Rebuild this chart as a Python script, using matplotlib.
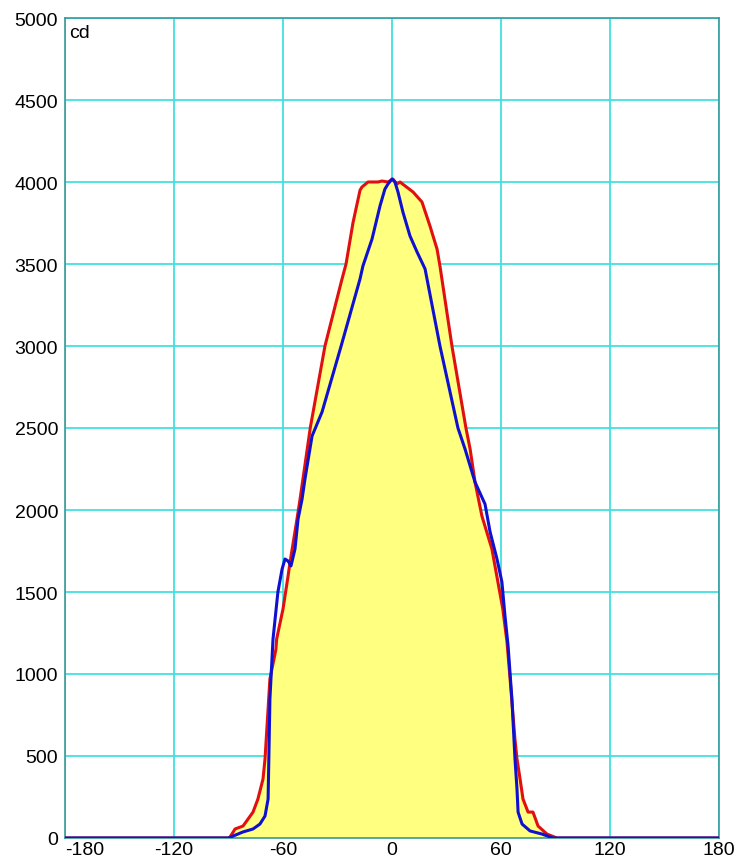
import matplotlib
matplotlib.use("Agg")
import matplotlib.pyplot as plt
import numpy as np

plt.rcParams['font.family'] = ['Liberation Sans', 'DejaVu Sans']

x_ticks = [-180, -120, -60, 0, 60, 120, 180]
y_ticks = [0, 500, 1000, 1500, 2000, 2500, 3000, 3500, 4000, 4500, 5000]

red_x = [-180, -90, -89.2, -86.4, -82, -76.5, -73.8, -71, -69.9, -67.2, -63.9, -63.5,
         -60, -57.2, -56.1, -52.3, -50.6, -45, -36.9, -27.5, -25.3, -21.5, -17.6, -16.5, -13.2,
         -7.7, -5.5, -2.2, 0.5, 2.7, 4.4, 11.6, 16.5, 20.9, 24.8, 26.4, 33, 40.7, 43, 45.7,
         49.5, 55, 58.3, 61, 63.3, 65, 67.7, 68.8, 70.5, 72.1, 74.9, 77.6, 80.4, 85.3, 90.8, 180]
red_y = [0, 0, 5, 55, 73, 158, 238, 360, 482, 970, 1150, 1213,
         1396, 1598, 1683, 1945, 2067, 2500, 3000, 3409, 3500, 3750, 3950, 3970, 4000,
         4000, 4006, 4000, 4018, 3988, 4000, 3939, 3878, 3732, 3591, 3488, 3000, 2500, 2372, 2170,
         1963, 1762, 1561, 1396, 1195, 970, 600, 482, 360, 238, 158, 158, 73, 24, 0, 0]

blue_x = [-180, -90, -89, -82, -76.5, -72.7, -69.9, -68.2, -67.2, -65.5, -62.8, -60.5,
          -58.9, -57.2, -55.6, -53.4, -51.7, -49.5, -47.9, -44, -38.5, -28, -17.6, -16, -11, -6.6,
          -3.9, -2.2, 0, 1.6, 3.3, 6, 9.9, 13.8, 18.2, 26.4, 36.3, 40.2, 45.7, 51.2, 54,
          57.8, 60.5, 62.2, 63.9, 66, 67.7, 68.8, 69.4, 71.6, 76, 82.6, 88.6, 180]
blue_y = [0, 0, 5, 37, 55, 85, 134, 238, 848, 1213, 1500, 1640,
          1701, 1689, 1659, 1762, 1945, 2067, 2189, 2451, 2598, 3000, 3409, 3488, 3652, 3854,
          3957, 3988, 4018, 4000, 3939, 3817, 3671, 3573, 3470, 3000, 2500, 2372, 2170, 2036, 1866,
          1701, 1561, 1354, 1171, 848, 482, 299, 158, 85, 43, 24, 0, 0]

fig = plt.figure(figsize=(7.41, 8.62), dpi=100)
ax = fig.add_axes([65/741, (862-839)/862, (719-65)/741, (839-19)/862])

ax.set_xlim(-180, 180)
ax.set_ylim(0, 5000)
ax.set_xticks(x_ticks)
ax.set_yticks(y_ticks)
ax.set_xticklabels([str(v) for v in x_ticks])
ax.set_yticklabels([str(v) for v in y_ticks])
ax.tick_params(length=0, labelsize=14)
ax.tick_params(axis='y', pad=5)
ax.tick_params(axis='x', pad=2)
xl = ax.get_xticklabels()
xl[0].set_horizontalalignment('left')
xl[0].set_x(-181)
ax.grid(True, color='#40e0e0', linewidth=1.3, zorder=1)
ax.set_axisbelow(True)
for s in ax.spines.values():
    s.set_color('#3a9a9a')
    s.set_linewidth(1.2)

ax.fill_between(red_x, red_y, 0, color='#ffff80', zorder=2, linewidth=0)
ax.plot(red_x, red_y, color='#e01010', linewidth=2.2, zorder=4, solid_joinstyle='round')
ax.plot(blue_x, blue_y, color='#1010d0', linewidth=2.2, zorder=5, solid_joinstyle='round')

ax.text(0.007, 0.993, 'cd', transform=ax.transAxes, ha='left', va='top', fontsize=14)

fig.savefig('out.png', dpi=100)
